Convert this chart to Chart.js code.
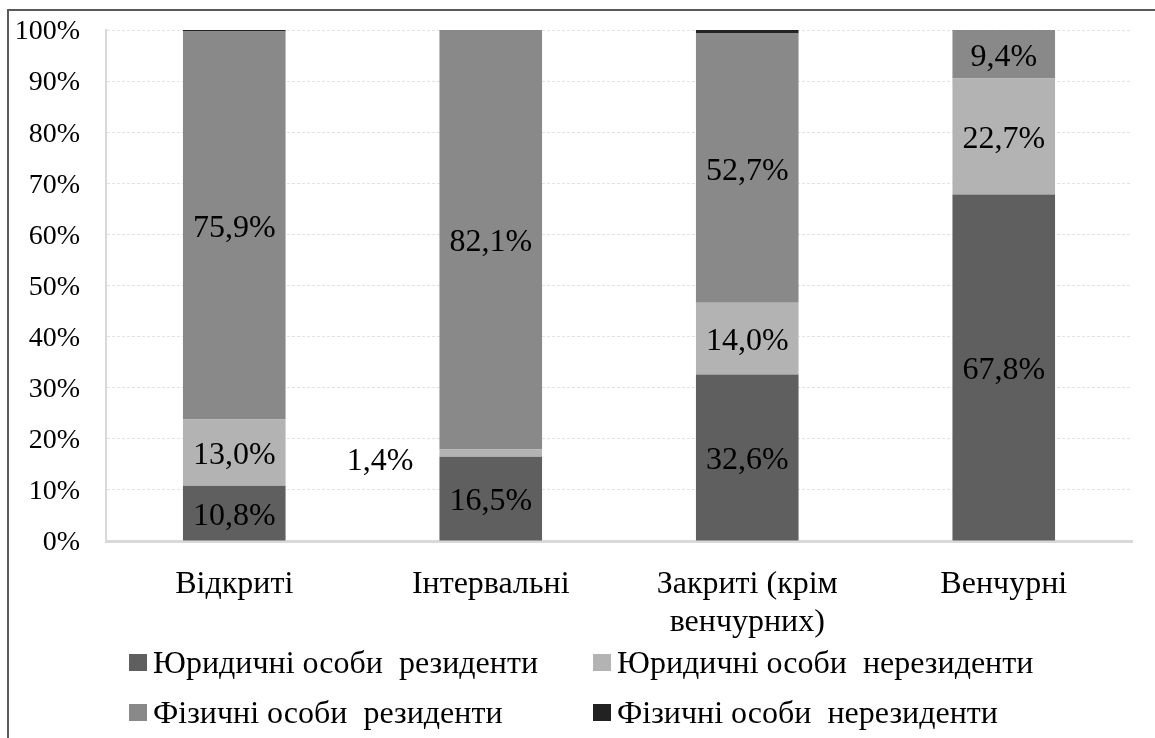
<!DOCTYPE html>
<html lang="uk">
  <head>
    <meta charset="UTF-8" />
    <title>Структура власників</title>
    <script src="https://cdn.jsdelivr.net/npm/chart.js"></script>
    <style>
      body {
        margin: 0;
        background: #ffffff;
        font-family: "Liberation Serif", "Times New Roman", serif;
      }
      #wrap {
        position: relative;
        width: 1155px;
        height: 738px;
        overflow: hidden;
      }
      #frame {
        position: absolute;
        left: 7px;
        top: 9px;
        width: 1200px;
        height: 800px;
        border-top: 2px solid #5a5a5a;
        border-left: 2px solid #5a5a5a;
        box-sizing: border-box;
      }
      canvas {
        position: absolute;
        left: 0;
        top: 0;
      }
      #legend {
        position: absolute;
        left: 129px;
        top: 637px;
        display: grid;
        grid-template-columns: 464px 464px;
        grid-auto-rows: 50px;
        font-size: 32px;
        color: #000;
      }
      .item {
        display: flex;
        align-items: center;
        white-space: pre;
      }
      .box {
        display: inline-block;
        width: 18px;
        height: 17px;
        margin-right: 6px;
      }
    </style>
  </head>
  <body>
    <div id="wrap">
      <div id="frame"></div>
      <canvas id="chart" width="1155" height="738"></canvas>
      <div id="legend"></div>
    </div>
    <script>
      // categories (multi-line label for the third one)
      const categories = [
        "Відкриті",
        "Інтервальні",
        ["Закриті (крім", "венчурних)"],
        "Венчурні",
      ];

      // shares, %
      const legalResidents = [10.8, 16.5, 32.6, 67.8];
      const legalNonResidents = [13.0, 1.4, 14.0, 22.7];
      const personResidents = [75.9, 82.1, 52.7, 9.4];
      const personNonResidents = [0.3, 0.0, 0.7, 0.1];

      const seriesNames = [
        "Юридичні особи  резиденти",
        "Юридичні особи  нерезиденти",
        "Фізичні особи  резиденти",
        "Фізичні особи  нерезиденти",
      ];
      const seriesColors = ["#5f5f5f", "#b3b3b3", "#898989", "#222222"];
      const yTicks = [0, 10, 20, 30, 40, 50, 60, 70, 80, 90, 100];

      const FONT = "'Liberation Serif', 'Times New Roman', serif";

      // draws value labels inside segments (small ones go left of the bar)
      const valueLabels = {
        id: "valueLabels",
        afterDatasetsDraw(chart) {
          const ctx = chart.ctx;
          ctx.save();
          ctx.font = "32px " + FONT;
          ctx.fillStyle = "#000";
          ctx.textBaseline = "middle";
          for (let d = 0; d < 3; d++) {
            const meta = chart.getDatasetMeta(d);
            const data = chart.data.datasets[d].data;
            meta.data.forEach((bar, i) => {
              const v = data[i];
              if (!v) return;
              const txt = v.toFixed(1).replace(".", ",") + "%";
              const cy = (bar.y + bar.base) / 2 + 3;
              if (v < 5) {
                ctx.textAlign = "right";
                ctx.fillText(txt, bar.x - bar.width / 2 - 26, cy + 5);
              } else {
                ctx.textAlign = "center";
                ctx.fillText(txt, bar.x, cy);
              }
            });
          }
          ctx.restore();
        },
      };

      const seriesData = [
        legalResidents,
        legalNonResidents,
        personResidents,
        personNonResidents,
      ];

      new Chart(document.getElementById("chart"), {
        type: "bar",
        data: {
          labels: categories,
          datasets: seriesData.map((values, i) => ({
            label: seriesNames[i],
            data: values,
            backgroundColor: seriesColors[i],
            borderWidth: 0,
            barPercentage: 1,
            categoryPercentage: 0.4,
          })),
        },
        options: {
          responsive: false,
          animation: false,
          layout: { padding: { top: 30, right: 23, left: 0, bottom: 0 } },
          plugins: {
            legend: { display: false },
            tooltip: { enabled: false },
          },
          scales: {
            x: {
              stacked: true,
              grid: { display: false },
              border: { color: "#d9d9d9", width: 3 },
              ticks: {
                color: "#000",
                font: { family: FONT, size: 32 },
                padding: 16,
                maxRotation: 0,
              },
              afterFit(scale) {
                scale.height = 197;
                scale.paddingLeft = 0;
                scale.paddingRight = 0;
              },
            },
            y: {
              stacked: true,
              min: 0,
              max: 100,
              afterBuildTicks(scale) {
                scale.ticks = yTicks.map((v) => ({ value: v }));
              },
              grid: { color: "#e3e3e3", lineWidth: 1, drawTicks: false },
              border: { color: "#d9d9d9", width: 2, dash: [3, 2] },
              ticks: {
                color: "#000",
                font: { family: FONT, size: 28 },
                padding: 26,
                labelOffset: 2,
                callback: (v) => v + "%",
              },
              afterFit(scale) {
                scale.width = 106;
                scale.paddingTop = 0;
                scale.paddingBottom = 0;
              },
            },
          },
        },
        plugins: [valueLabels],
      });

      // legend in two fixed columns
      const legend = document.getElementById("legend");
      seriesNames.forEach((name, i) => {
        const item = document.createElement("div");
        item.className = "item";
        const box = document.createElement("span");
        box.className = "box";
        box.style.background = seriesColors[i];
        item.appendChild(box);
        item.appendChild(document.createTextNode(name));
        legend.appendChild(item);
      });
    </script>
  </body>
</html>
